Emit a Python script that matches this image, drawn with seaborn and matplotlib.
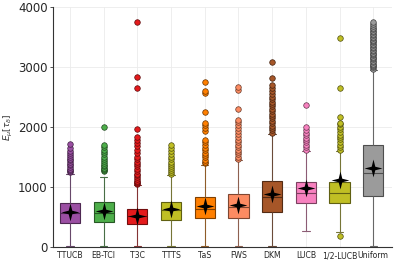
import matplotlib
matplotlib.use("Agg")
import matplotlib.pyplot as plt
import numpy as np
import pandas as pd
import seaborn as sns
from matplotlib.path import Path
from matplotlib.colors import to_rgb

# box statistics
cats = ["TTUCB", "EB-TCI", "T3C", "TTTS", "TaS", "FWS", "DKM", "LUCB", "1/2-LUCB", "Uniform"]
colors = ["#9b4fa3", "#4dae4a", "#e41a1c", "#c0bf24", "#ff7f00", "#fc8b62",
          "#a65628", "#f781bf", "#c0bf24", "#9b9b9b"]
whislo = [15, 15, 15, 15, 15, 15, 15, 267, 245, 15]
q1 = [405, 411, 378, 450, 478, 489, 589, 728, 728, 856]
med = [561, 572, 506, 606, 633, 661, 828, 894, 906, 1228]
q3 = [733, 745, 639, 756, 839, 878, 1106, 1078, 1083, 1700]
whishi = [1220, 1172, 1030, 1190, 1367, 1450, 1880, 1600, 1606, 2950]
means = [580, 600, 522, 628, 678, 700, 883, 978, 1117, 1311]

fl_ttucb = [1240, 1260, 1280, 1300, 1330, 1360, 1380, 1410, 1440, 1470, 1500, 1530, 1560, 1600, 1640, 1720]
fl_ebtci = [1260, 1280, 1300, 1320, 1340, 1370, 1400, 1430, 1460, 1500, 1540, 1580, 1620, 1660, 1700, 1995]
fl_t3c = [1040, 1060, 1080, 1100, 1130, 1160, 1190, 1220, 1260, 1300, 1340, 1380, 1420, 1460, 1500,
          1560, 1620, 1680, 1730, 1780, 1830, 1970, 2640, 2830, 3750]
fl_ttts = [1220, 1250, 1280, 1310, 1340, 1380, 1420, 1460, 1500, 1540, 1590, 1640, 1700]
fl_tas = [1390, 1420, 1450, 1490, 1530, 1570, 1610, 1650, 1700, 1740, 1780, 1930, 1980, 2030, 2070,
          2250, 2560, 2590, 2740]
fl_fws = [1470, 1500, 1540, 1580, 1620, 1660, 1700, 1740, 1780, 1830, 1880, 1930, 1980, 2030, 2080,
          2120, 2290, 2620, 2670]
fl_dkm = [1900, 1940, 1980, 2020, 2060, 2100, 2140, 2180, 2220, 2260, 2300, 2340, 2380, 2420, 2460,
          2500, 2550, 2600, 2650, 2700, 2820, 3080]
fl_lucb = [1620, 1660, 1700, 1740, 1780, 1820, 1860, 1900, 1950, 1990, 2360]
fl_half = [183, 1620, 1660, 1700, 1740, 1790, 1830, 1870, 1920, 1960, 2000, 2040, 2070, 2170, 2640, 3490]
fl_unif = [2970, 2990, 3010, 3030, 3055, 3080, 3100, 3125, 3150, 3170, 3195, 3220, 3240, 3265, 3290,
           3310, 3335, 3360, 3385, 3410, 3430, 3455, 3480, 3500, 3525, 3550, 3575, 3600, 3625, 3650,
           3680, 3710, 3750]
fliers = [fl_ttucb, fl_ebtci, fl_t3c, fl_ttts, fl_tas, fl_fws, fl_dkm, fl_lucb, fl_half, fl_unif]

# sample per method that reproduces the quartiles / whiskers / outliers
M = 200
rows = []
for i, c in enumerate(cats):
    vals = [whislo[i]] + [q1[i]] * M + [med[i]] * M + [q3[i]] * M + [whishi[i]] + fliers[i]
    rows += [(c, v) for v in vals]
df = pd.DataFrame(rows, columns=["method", "value"])


def mix(c, other, t):
    a, b = np.array(to_rgb(c)), np.array(to_rgb(other))
    return tuple(a * (1 - t) + b * t)


sns.set_style("whitegrid")
plt.rcParams["font.family"] = ["DejaVu Sans"]

fig = plt.figure(figsize=(3.99, 2.66), dpi=100)
ax = fig.add_axes([0.133, 0.072, 0.849, 0.902])

sns.boxplot(data=df, x="method", y="value", hue="method", order=cats, hue_order=cats,
            palette=colors, legend=False, width=0.6, linewidth=0.8, ax=ax,
            flierprops=dict(marker="o", markersize=4.0, markeredgewidth=0.5))

for cont, col in zip(ax.containers, colors):
    dark = mix(col, "black", 0.5)
    wcol = mix(col, "#444444", 0.6)
    for b in cont.boxes:
        b.set_facecolor(col)
        b.set_edgecolor(dark)
    for l in cont.medians:
        l.set_color(dark)
    for l in list(cont.whiskers) + list(cont.caps):
        l.set_color(wcol)
    for l in cont.caps:
        xd = np.asarray(l.get_xdata(), dtype=float)
        mid = xd.mean()
        l.set_xdata([mid - 0.11, mid + 0.11])
    for l in cont.fliers:
        l.set_markerfacecolor(col)
        l.set_markeredgecolor(mix(col, "black", 0.6))

# mean markers (4-point star)
r = 0.2
star = Path([(0, 1), (r, r), (1, 0), (r, -r), (0, -1), (-r, -r), (-1, 0), (-r, r), (0, 1)],
            [Path.MOVETO] + [Path.LINETO] * 7 + [Path.CLOSEPOLY])
sns.scatterplot(x=cats, y=means, marker=star, s=165, color="black", linewidth=0, ax=ax, zorder=5)

ax.set_ylim(0, 4000)
ax.set_xlim(-0.5, 9.55)
ax.set_yticks([0, 1000, 2000, 3000, 4000])
ax.set_xlabel("")
ax.set_ylabel(r"$E_\mu[\tau_\delta]$", fontsize=6.5, color="#333333", labelpad=2)
ax.grid(True, color="#ebebeb", linewidth=0.6)
ax.set_axisbelow(True)
for s in ["top", "right"]:
    ax.spines[s].set_visible(False)
for s in ["left", "bottom"]:
    ax.spines[s].set_color("#333333")
    ax.spines[s].set_linewidth(0.8)
ax.tick_params(axis="y", labelsize=8.5, length=2.5, width=0.6, color="#333333", pad=1.5, left=True)
ax.tick_params(axis="x", labelsize=5.6, length=0, pad=3)

fig.savefig("out.png", dpi=100)
